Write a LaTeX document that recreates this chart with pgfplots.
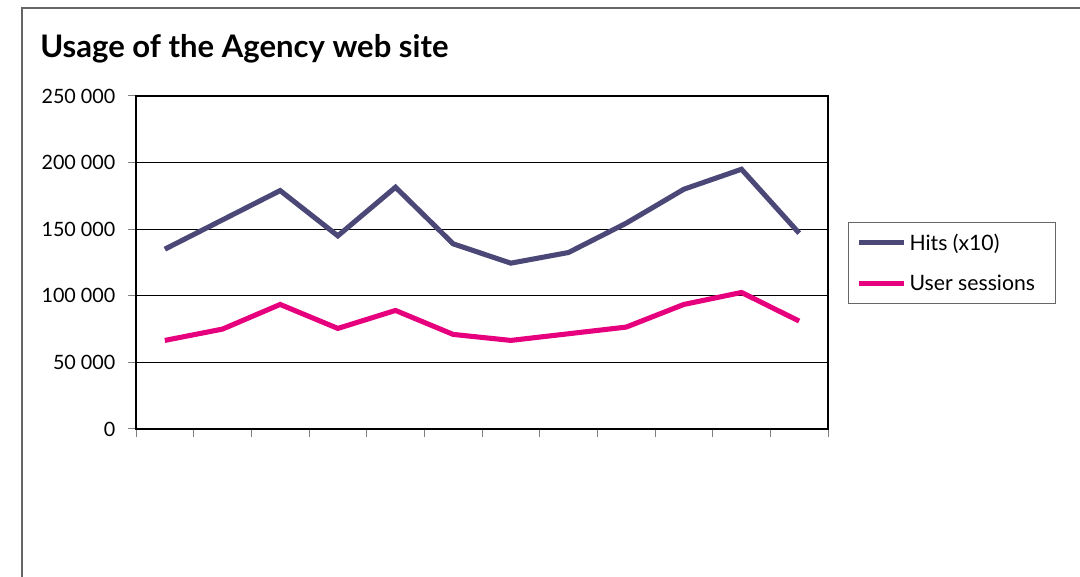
\documentclass[border=0pt]{standalone}
\usepackage{pgfplots}
\pgfplotsset{compat=1.18}
\usepackage{fontspec}
\setmainfont{Lato}
\definecolor{hits}{HTML}{4B4878}
\definecolor{users}{HTML}{E6007E}
\definecolor{frame}{HTML}{666666}
\begin{document}
\begin{tikzpicture}[x=0.75pt,y=0.75pt]
  % page: 1080 x 577 px, 1 px = 0.75pt, origin at bottom left
  \useasboundingbox (0,0) rectangle (1080,577);
  \draw[frame, line width=1.1pt] (22,0) -- (22,569) -- (1080,569);
  \node[anchor=base west, inner sep=0pt, font=\fontsize{23.3}{26}\selectfont\bfseries] at (40,519) {Usage of the Agency web site};
  \begin{axis}[
      at={(102pt,111pt)}, anchor=south west,
      scale only axis, width=519pt, height=249.75pt,
      xmin=0.5, xmax=12.5,
      ymin=0, ymax=250000,
      scaled y ticks=false,
      xtick={0.5,1.5,...,12.5}, xticklabels={},
      ytick={0,50000,100000,150000,200000,250000},
      yticklabels={0,50 000,100 000,150 000,200 000,250 000},
      tick pos=left, tick align=outside,
      major tick length=6pt,
      tick style={draw=black!50, line width=0.75pt},
      axis line style={black, line width=1pt},
      ymajorgrids,
      major grid style={black, line width=0.6pt},
      yticklabel style={font=\fontsize{14.8}{17}\selectfont, xshift=-6pt},
      legend style={
        at={(1.0289,0.4985)}, anchor=west,
        draw=frame, line width=0.8pt,
        font=\fontsize{15.9}{19}\selectfont,
        inner xsep=6pt, inner ysep=6.5pt,
        row sep=13pt,
      },
      legend cell align=left,
      legend image code/.code={\draw[#1, line width=3.8pt] (0pt,0pt) -- (34pt,0pt);},
    ]
    \addplot[hits, line width=3.8pt] coordinates {
      (1,135000) (2,157000) (3,179000) (4,145000) (5,181500) (6,139000)
      (7,124500) (8,132500) (9,154500) (10,180000) (11,195000) (12,147000)
    };
    \addlegendentry{Hits (x10)}
    \addplot[users, line width=3.8pt] coordinates {
      (1,66500) (2,75000) (3,93500) (4,75500) (5,89000) (6,71000)
      (7,66500) (8,71500) (9,76500) (10,93500) (11,102500) (12,81000)
    };
    \addlegendentry{User sessions\hspace*{7pt}}
  \end{axis}
\end{tikzpicture}
\end{document}
